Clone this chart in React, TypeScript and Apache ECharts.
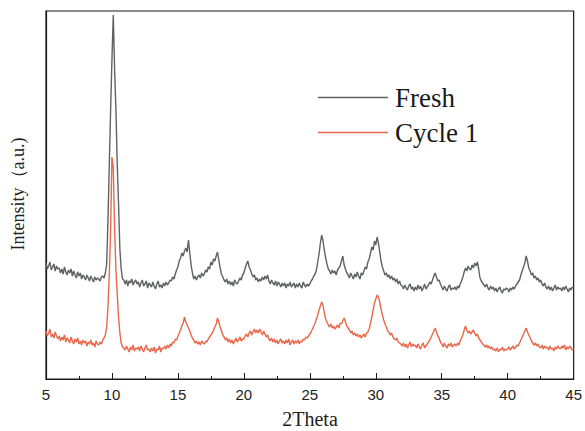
import React, { useEffect, useRef } from "react";
import * as echarts from "echarts";

// Sampling grid of 2θ (degrees)
const X_START = 5;
const X_STEP = 0.1;

const SERIES_NAMES = ["Fresh", "Cycle 1"];
const X_TICKS_MIN = 5;
const X_TICKS_MAX = 45;

// Intensity (a.u.), one value every 0.1° from 5 to 45
const FRESH: number[] = [
  116, 110, 113, 117, 109, 112, 115, 108, 113, 110,
  111, 106, 110, 105, 112, 107, 104, 109, 106, 110,
  103, 108, 104, 101, 107, 103, 106, 100, 104, 102,
  99, 104, 101, 98, 103, 100, 97, 102, 99, 101,
  100, 98, 102, 103, 101, 106, 115, 160, 215, 270,
  320, 364, 310, 270, 215, 175, 130, 110, 100, 99,
  95, 99, 93, 98, 96, 100, 94, 97, 99, 95,
  97, 92, 96, 99, 93, 95, 98, 91, 96, 94,
  92, 97, 93, 90, 95, 98, 92, 94, 91, 96,
  93, 97, 94, 96, 99, 98, 102, 100, 105, 109,
  112, 118, 121, 126, 123, 128, 131, 127, 139, 126,
  114, 106, 100, 103, 99, 102, 104, 101, 106, 103,
  105, 109, 107, 112, 110, 117, 114, 120, 118, 123,
  127, 119, 111, 105, 102, 99, 97, 100, 95, 98,
  94, 97, 93, 99, 96, 95, 98, 101, 99, 104,
  106, 111, 115, 118, 112, 109, 105, 102, 104, 99,
  101, 97, 100, 98, 102, 99, 103, 100, 104, 98,
  95, 99, 96, 94, 98, 93, 97, 95, 92, 96,
  93, 96, 91, 95, 93, 97, 92, 94, 96, 91,
  95, 92, 96, 93, 91, 97, 94, 92, 95, 93,
  95, 98, 100, 103, 105, 109, 117, 125, 136, 144,
  138, 129, 121, 115, 110, 108, 105, 109, 106, 108,
  104, 109, 111, 113, 118, 123, 114, 110, 106, 104,
  101, 106, 103, 100, 105, 102, 107, 103, 100, 106,
  104, 108, 112, 110, 117, 120, 126, 132, 129, 138,
  134, 142, 136, 127, 118, 112, 108, 104, 106, 102,
  104, 100, 103, 99, 101, 97, 100, 95, 98, 94,
  93, 90, 94, 91, 89, 93, 95, 90, 92, 88,
  92, 89, 94, 90, 93, 88, 91, 95, 90, 92,
  94, 97, 95, 99, 103, 106, 102, 98, 99, 95,
  92, 89, 93, 90, 88, 92, 94, 89, 91, 90,
  92, 89, 93, 91, 95, 98, 102, 107, 111, 108,
  113, 110, 109, 114, 111, 116, 113, 117, 110, 101,
  98, 96, 94, 92, 95, 91, 89, 93, 90, 92,
  88, 91, 87, 90, 92, 88, 86, 90, 89, 91,
  90, 87, 91, 89, 92, 90, 93, 95, 97, 99,
  104, 108, 112, 116, 123, 118, 111, 108, 104, 106,
  101, 103, 99, 101, 97, 99, 95, 93, 96, 92,
  90, 93, 89, 92, 88, 91, 94, 89, 92, 90,
  91, 88, 92, 89, 93, 90, 87, 91, 89, 92,
  91,
];

const CYCLE1: number[] = [
  48, 43, 46, 50, 42, 45, 41, 47, 43, 40,
  43, 38, 42, 39, 44, 37, 41, 39, 36, 42,
  38, 35, 40, 37, 41, 35, 38, 34, 39, 36,
  38, 33, 37, 35, 39, 34, 36, 32, 38, 35,
  34, 37, 35, 39, 41, 44, 52, 72, 105, 150,
  222, 212, 150, 110, 85, 62, 46, 36, 32, 31,
  29, 33, 30, 27, 32, 29, 34, 28, 31, 30,
  32, 28, 33, 30, 27, 31, 34, 29, 30, 27,
  31, 28, 32, 26, 30, 29, 33, 27, 31, 30,
  33, 30, 34, 31, 35, 33, 37, 36, 40, 39,
  43, 46, 49, 53, 56, 62, 57, 54, 51, 48,
  44, 41, 39, 36, 38, 35, 37, 34, 38, 36,
  35, 38, 37, 40, 42, 44, 46, 49, 52, 55,
  61, 57, 52, 48, 44, 42, 39, 41, 37, 40,
  36, 39, 35, 38, 41, 37, 39, 42, 38, 40,
  40, 43, 45, 42, 46, 48, 44, 47, 50, 46,
  49, 46, 50, 47, 44, 48, 45, 42, 44, 40,
  38, 41, 37, 40, 36, 39, 35, 38, 40, 36,
  38, 35, 39, 36, 40, 34, 37, 39, 35, 38,
  36, 39, 35, 38, 37, 40, 39, 42, 41, 43,
  45, 47, 50, 53, 56, 60, 64, 69, 73, 77,
  74, 66, 60, 57, 54, 52, 55, 51, 53, 50,
  52, 54, 51, 56, 55, 58, 61, 57, 53, 51,
  49, 46, 48, 44, 46, 43, 45, 42, 44, 41,
  43, 45, 42, 46, 47, 50, 56, 62, 69, 76,
  80, 84, 82, 77, 70, 64, 59, 55, 52, 48,
  47, 44, 46, 42, 40, 39, 41, 37, 36, 35,
  33, 36, 32, 35, 31, 34, 37, 32, 35, 33,
  34, 31, 35, 32, 30, 34, 36, 31, 33, 35,
  37, 39, 42, 45, 48, 51, 47, 43, 41, 37,
  35, 32, 36, 33, 31, 35, 33, 36, 32, 34,
  35, 33, 36, 34, 38, 41, 44, 49, 53, 49,
  46, 48, 45, 47, 49, 46, 43, 45, 41, 39,
  37, 35, 34, 32, 34, 31, 33, 30, 32, 29,
  30, 28, 31, 27, 30, 29, 32, 28, 30, 29,
  30, 32, 29, 31, 33, 30, 32, 34, 33, 36,
  39, 42, 45, 48, 51, 47, 44, 41, 38, 36,
  34, 36, 33, 35, 32, 31, 34, 30, 33, 31,
  32, 29, 33, 30, 31, 28, 32, 30, 33, 31,
  30, 33, 31, 34, 29, 32, 30, 33, 31, 29,
  30,
];

const toPairs = (vals: number[]) =>
  vals.map((v, i) => [+(X_START + i * X_STEP).toFixed(2), v]);

export default function App() {
  const ref = useRef<HTMLDivElement>(null);
  useEffect(() => {
    if (!ref.current) return;
    const chart = echarts.init(ref.current, undefined, { renderer: "svg" });
    const serif = "'Liberation Serif', 'Times New Roman', serif";
    const sans = "'Liberation Sans', Arial, sans-serif";
    chart.setOption({
      animation: false,
      backgroundColor: "#ffffff",
      grid: {
        left: 46,
        right: 11,
        top: 11,
        bottom: 52,
        show: true,
        borderColor: "#1a1a1a",
        borderWidth: 1.2,
        backgroundColor: "transparent",
      },
      legend: {
        orient: "vertical",
        left: 313,
        top: 79,
        itemWidth: 70,
        itemHeight: 1.5,
        itemGap: 8,
        icon: "rect",
        data: SERIES_NAMES,
        textStyle: {
          fontFamily: serif,
          fontSize: 27,
          color: "#1a1a1a",
          lineHeight: 25,
          padding: [0, 0, 0, 2],
        },
      },
      xAxis: {
        type: "value",
        min: X_TICKS_MIN,
        max: X_TICKS_MAX,
        interval: 5,
        axisLine: { lineStyle: { color: "#1a1a1a", width: 1.2 } },
        axisTick: { inside: true, length: 6, lineStyle: { color: "#1a1a1a" } },
        minorTick: { show: true, splitNumber: 2, length: 3, lineStyle: { color: "#1a1a1a" } },
        axisLabel: { fontFamily: sans, fontSize: 15, color: "#222", margin: 8 },
        splitLine: { show: false },
      },
      yAxis: {
        type: "value",
        min: 0,
        max: 368,
        axisLine: { show: true, lineStyle: { color: "#1a1a1a", width: 1.2 } },
        axisTick: { show: false },
        axisLabel: { show: false },
        splitLine: { show: false },
      },
      graphic: [
        {
          type: "text",
          x: 310,
          y: 419,
          style: {
            text: "2Theta",
            fontFamily: serif,
            fontSize: 20,
            fill: "#222",
            align: "center",
            verticalAlign: "middle",
          },
        },
        {
          type: "text",
          x: 18,
          y: 194,
          rotation: Math.PI / 2,
          style: {
            text: "Intensity（a.u.)",
            fontFamily: serif,
            fontSize: 18,
            fill: "#222",
            align: "center",
            verticalAlign: "middle",
          },
        },
      ],
      series: [
        {
          name: SERIES_NAMES[0],
          type: "line",
          data: toPairs(FRESH),
          showSymbol: false,
          symbol: "none",
          color: "#5f6165",
          lineStyle: { width: 1.4, color: "#5f6165" },
        },
        {
          name: SERIES_NAMES[1],
          type: "line",
          data: toPairs(CYCLE1),
          showSymbol: false,
          symbol: "none",
          color: "#e8684b",
          lineStyle: { width: 1.4, color: "#e8684b" },
        },
      ],
    });
    return () => chart.dispose();
  }, []);
  return (
    <div
      ref={ref}
      style={{ position: "fixed", left: 0, top: 0, width: 585, height: 431 }}
    />
  );
}
